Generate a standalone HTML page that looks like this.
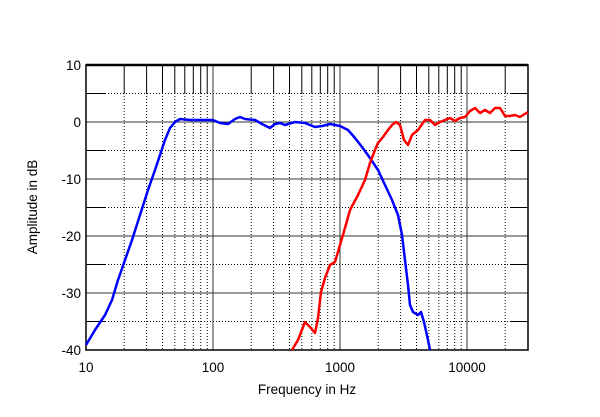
<!DOCTYPE html><html><head><style>body{margin:0;background:#fff}svg{display:block}text{font-family:"Liberation Sans",sans-serif;font-size:13.5px;fill:#000}</style></head><body>
<svg width="600" height="417" viewBox="0 0 600 417" xmlns="http://www.w3.org/2000/svg">
<g stroke="#000" stroke-width="1" fill="none">
<g id="minor">
<path d="M124.2 65V93M146.6 65V93M162.5 65V93M174.8 65V93M184.8 65V93M193.3 65V93M200.7 65V93M207.2 65V93M251.2 65V93M273.6 65V93M289.5 65V93M301.8 65V93M311.8 65V93M320.3 65V93M327.7 65V93M334.2 65V93M378.2 65V93M400.6 65V93M416.5 65V93M428.8 65V93M438.8 65V93M447.3 65V93M454.7 65V93M461.2 65V93M505.2 65V93"/>
<path stroke-dasharray="1,2" d="M124.2 93V350M146.6 93V350M162.5 93V350M174.8 93V350M184.8 93V350M193.3 93V350M200.7 93V350M207.2 93V350M251.2 93V350M273.6 93V350M289.5 93V350M301.8 93V350M311.8 93V350M320.3 93V350M327.7 93V350M334.2 93V350M378.2 93V350M400.6 93V350M416.5 93V350M428.8 93V350M438.8 93V350M447.3 93V350M454.7 93V350M461.2 93V350M505.2 93V350"/>
</g>
<path stroke-dasharray="1,2" d="M105 93.5H510M105 150.5H510M105 207.5H510M105 264.5H510M105 321.5H510"/>
<path d="M86 93.5H105M86 150.5H105M86 207.5H105M86 264.5H105M86 321.5H105M510 93.5H528M510 150.5H528M510 207.5H528M510 264.5H528M510 321.5H528"/>
<path stroke="#333" d="M86 122H528M86 179H528M86 236H528M86 293H528M213 65V350M340 65V350M467 65V350"/>
<rect x="86" y="65" width="442" height="285" stroke-width="1.5"/>
<path d="M86 65H528" stroke-width="2.5"/>
</g>
<polyline fill="none" stroke="#00f" stroke-width="2.5" stroke-linejoin="round" points="86,345 95,330 105,315 112,300 118,280 125,260 132,240 140,215 148,190 155,170 160,155 165,140 170,128 175,122 180,119 190,120 200,120 213,120 220,123 228,124 235,119 240,117 245,119 255,120 262,124 270,128 275,124 280,123 285,125 295,122 305,123 315,127 322,126 330,124 340,126 348,130 355,138 362,147 370,158 378,170 385,185 392,200 398,215 402,235 405,260 408,285 410,305 413,312 418,315 421,312 424,322 428,340 430,350"/>
<polyline fill="none" stroke="#f00" stroke-width="2.5" stroke-linejoin="round" points="292,350 298,340 305,322 310,327 315,333 318,318 321,292 325,278 330,265 335,262 340,245 345,228 350,210 358,195 365,180 370,163 375,150 378,143 383,137 388,130 392,125 396,122 400,125 404,140 408,145 412,135 418,130 425,120 430,120 435,125 440,122 445,120 450,118 455,121 460,118 465,117 470,111 475,108 480,113 485,110 490,113 495,108 500,108 505,116 510,116 515,115 520,117 528,112"/>
<g text-anchor="end">
<text x="81" y="70">10</text><text x="81" y="127">0</text><text x="81" y="184">-10</text><text x="81" y="241">-20</text><text x="81" y="298">-30</text><text x="81" y="355">-40</text>
</g>
<g text-anchor="middle">
<text x="86" y="372">10</text><text x="213" y="372">100</text><text x="340" y="372">1000</text><text x="467" y="372">10000</text>
<text x="307" y="394">Frequency  in Hz</text>
<text transform="translate(37 207) rotate(-90)">Amplitude in dB</text>
</g>
</svg></body></html>
